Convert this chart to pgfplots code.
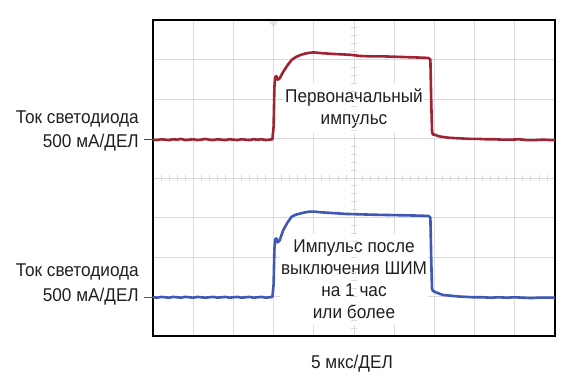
\documentclass[border=0pt]{standalone}
\usepackage{pgfplots}
\pgfplotsset{compat=1.18}
\usepackage{fontspec}
\setmainfont{Liberation Sans}[FakeStretch=0.93]
\definecolor{tracered}{RGB}{158,36,52}
\definecolor{traceblue}{RGB}{62,88,180}
\definecolor{gridgray}{RGB}{218,218,218}
\definecolor{txt}{RGB}{35,31,32}
\begin{document}
\begin{tikzpicture}[font=\fontsize{18.5}{22}\selectfont, text=txt]
\path[use as bounding box] (-153pt,-43pt) rectangle (418pt,336pt);
\begin{axis}[
  at={(0pt,0pt)}, anchor=south west,
  scale only axis, width=402pt, height=316pt,
  xmin=0, xmax=10, ymin=0, ymax=8,
  xtick={0,...,10}, ytick={0,...,8},
  xticklabels={}, yticklabels={},
  major tick length=0pt,
  grid=major,
  major grid style={gridgray, line width=0.9pt},
  axis line style={black, line width=1.6pt},
  clip=false,
]
\node[fill=white, inner xsep=1pt, inner ysep=5pt, align=center] at (axis cs:5,5.77) {Первоначальный\\импульс};
\node[fill=white, inner xsep=1pt, inner ysep=6pt, align=center] at (axis cs:5,1.44) {Импульс после\\выключения ШИМ\\на 1 час\\или более};
% red trace
\addplot[tracered, line width=2.6pt, line join=round, no markers] coordinates {
(0,4.97)(0.1,4.96)(0.2,4.98)(0.3,4.97)(0.4,4.96)(0.5,4.98)(0.6,4.97)(0.7,4.99)(0.8,4.96)(0.9,4.97)
(1.0,4.98)(1.1,4.96)(1.2,4.97)(1.3,4.99)(1.4,4.97)(1.5,4.96)(1.6,4.98)(1.7,4.97)(1.8,4.96)(1.9,4.98)
(2.0,4.97)(2.1,4.96)(2.2,4.98)(2.3,4.97)(2.4,4.96)(2.5,4.98)(2.6,4.97)(2.7,4.98)(2.8,4.96)(2.9,4.97)
(2.97,4.98)(3.0,5.3)(3.02,6.3)(3.04,6.55)(3.07,6.58)(3.1,6.49)(3.15,6.52)(3.24,6.69)(3.35,6.86)
(3.45,6.99)(3.55,7.06)(3.66,7.11)(3.78,7.15)(3.9,7.17)(4.0,7.18)(4.1,7.17)(4.2,7.16)(4.35,7.15)
(4.5,7.14)(4.7,7.13)(4.9,7.12)(5.15,7.09)(5.4,7.08)(5.7,7.08)(6.0,7.07)(6.3,7.06)(6.6,7.05)
(6.85,7.04)(6.9,7.0)(6.92,6.0)(6.94,5.2)(6.96,5.1)(7.0,5.1)(7.1,5.06)(7.2,5.04)(7.35,5.02)
(7.5,5.01)(7.7,5.0)(7.9,4.99)(8.1,4.99)(8.3,4.98)(8.5,4.98)(8.7,4.97)(8.9,4.97)(9.1,4.98)
(9.3,4.96)(9.5,4.96)(9.7,4.97)(9.9,4.96)(10,4.96)};
% blue trace
\addplot[traceblue, line width=2.6pt, line join=round, no markers] coordinates {
(0,0.98)(0.1,0.97)(0.2,0.99)(0.3,0.98)(0.4,0.97)(0.5,0.99)(0.6,0.98)(0.7,0.97)(0.8,0.99)(0.9,0.98)
(1.0,0.97)(1.1,0.99)(1.2,0.98)(1.3,0.97)(1.4,0.98)(1.5,0.99)(1.6,0.97)(1.7,0.98)(1.8,0.99)(1.9,0.97)
(2.0,0.98)(2.1,0.99)(2.2,0.97)(2.3,0.98)(2.4,0.99)(2.5,0.97)(2.6,0.98)(2.7,0.99)(2.8,0.97)(2.9,0.98)
(2.97,0.99)(3.0,1.3)(3.02,2.2)(3.04,2.45)(3.07,2.47)(3.1,2.37)(3.15,2.42)(3.24,2.68)(3.35,2.88)
(3.45,3.02)(3.55,3.07)(3.66,3.1)(3.78,3.13)(3.9,3.15)(4.0,3.15)(4.2,3.13)(4.5,3.11)(4.8,3.09)
(5.15,3.08)(5.5,3.07)(6.0,3.06)(6.5,3.05)(6.85,3.04)(6.9,3.0)(6.92,2.0)(6.94,1.2)(6.96,1.15)
(7.0,1.12)(7.1,1.08)(7.21,1.04)(7.4,1.02)(7.6,1.0)(7.8,0.99)(7.96,0.98)(8.2,0.98)(8.4,0.97)
(8.6,0.98)(8.8,0.97)(9.0,0.98)(9.2,0.97)(9.4,0.96)(9.6,0.97)(9.8,0.97)(10,0.97)};
\end{axis}
% minor ticks on centre lines
\foreach \i in {1,...,49} {
  \draw[gridgray, line width=0.8pt] ({\i*8.04pt},155pt) -- ({\i*8.04pt},161pt);
}
\foreach \j in {1,...,39} {
  \draw[gridgray, line width=0.8pt] (198pt,{\j*7.9pt}) -- (204pt,{\j*7.9pt});
}
% trigger marker
\fill[gridgray!80] (116.1pt,314.5pt) -- (125.1pt,314.5pt) -- (120.6pt,308.5pt) -- cycle;
% channel markers
\draw[tracered, line width=0.9pt] (-9pt,196.3pt) -- (0pt,196.3pt);
\draw[traceblue, line width=0.9pt] (-9pt,38.7pt) -- (0pt,38.7pt);
% labels
\node[anchor=base east, inner sep=0pt] at (-14pt,212pt) {Ток светодиода};
\node[anchor=base east, inner sep=0pt] at (-14pt,188.5pt) {500 мА/ДЕЛ};
\node[anchor=base east, inner sep=0pt] at (-14pt,59.3pt) {Ток светодиода};
\node[anchor=base east, inner sep=0pt] at (-14pt,34pt) {500 мА/ДЕЛ};
\node[anchor=base, inner sep=0pt] at (199pt,-33pt) {5 мкс/ДЕЛ};
\end{tikzpicture}
\end{document}
